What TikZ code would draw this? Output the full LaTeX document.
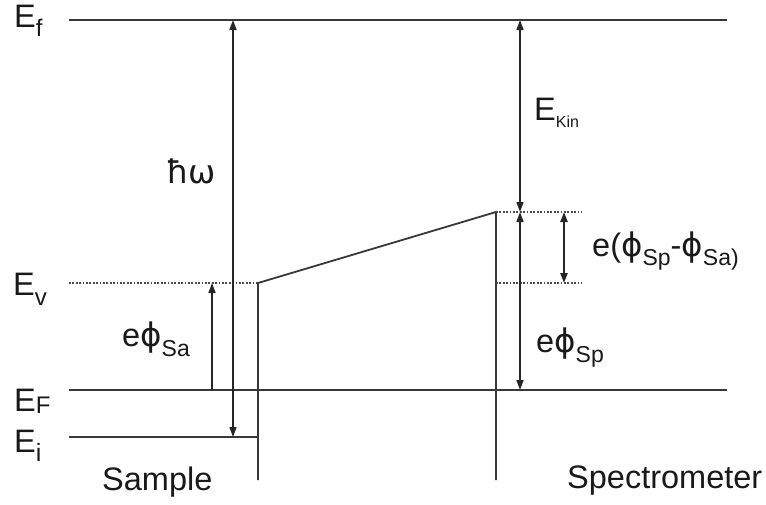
\documentclass[tikz,border=0pt]{standalone}
\usepackage{fontspec}
\setmainfont{Liberation Sans}
\newfontfamily\grk{DejaVu Sans}
\usetikzlibrary{arrows.meta}
% \lsub[size]{lower}{text}
\newcommand\lsub[3][23]{\raisebox{-#2pt}{\fontsize{#1}{#1}\selectfont #3}}
\newcommand\phis{{\grk ϕ}}
\begin{document}
\begin{tikzpicture}[x=1pt,y=-1pt,
  level/.style={line width=1.8pt, draw=black!78},
  dotline/.style={line width=1.8pt, draw=black!70, dash pattern=on 1.7pt off 1.7pt},
  tip/.tip={Triangle[length=10pt,width=7pt]},
  dimline/.style={line width=1.6pt, draw=black!85, tip-tip},
  upline/.style={line width=1.6pt, draw=black!85, -tip},
  lbl/.style={inner sep=0pt, anchor=base west, font=\fontsize{32.5}{32.5}\selectfont, text=black!90}]
\useasboundingbox (0,0) rectangle (766,504);
% coordinates
\coordinate (fL) at (69,20);   \coordinate (fR) at (727,20);
\coordinate (FL) at (69,390);  \coordinate (FR) at (727,390);
\coordinate (iL) at (69,437);  \coordinate (iR) at (258,437);
\coordinate (vL) at (69,283);  \coordinate (vR) at (258,283);
\coordinate (sTop) at (496,212); \coordinate (sBot) at (496,480);
\coordinate (aBot) at (258,480);
\coordinate (dTopR) at (582,212); \coordinate (dMid) at (496,283); \coordinate (dMidR) at (582,283);
\coordinate (hwT) at (233,20); \coordinate (hwB) at (233,437);
\coordinate (kT) at (520,20); \coordinate (kB) at (520,212);
\coordinate (pB) at (520,390);
\coordinate (saB) at (212,390); \coordinate (saT) at (212,283);
\coordinate (dT) at (564,212); \coordinate (dB) at (564,283);
% levels
\draw[level] (fL) -- (fR);
\draw[level] (FL) -- (FR);
\draw[level] (iL) -- (iR);
\draw[dotline] (vL) -- (vR);
\draw[level] (aBot) -- (vR) -- (sTop) -- (sBot);
\draw[dotline] (sTop) -- (dTopR);
\draw[dotline] (dMid) -- (dMidR);
% arrows
\draw[dimline] (hwB) -- (hwT);
\draw[dimline] (kT) -- (kB);
\draw[dimline] (kB) -- (pB);
\draw[upline] (saB) -- (saT);
\draw[dimline, line width=2.2pt] (dT) -- (dB);
% labels
\node[lbl] (Ef) at (14,27) {E\lsub[24]{9}{f}};
\node[lbl] (Ev) at (13,295) {E\lsub[24]{10}{v}};
\node[lbl] (EF) at (14,411) {E\lsub[24]{2}{F}};
\node[lbl] (Ei) at (14,452) {E\lsub[25]{9}{i}};
\node[lbl] (hw) at (166,183) {{\grk ħω}};
\node[lbl] (Ek) at (534,120) {E\lsub[16]{7}{Kin}};
\node[lbl] (esa) at (122,346) {e\phis\lsub{10}{Sa}};
\node[lbl] (esp) at (536,352) {e\phis\lsub{10}{Sp}};
\node[lbl] (ed) at (592,256) {e(\phis\lsub{9}{Sp}-\phis\lsub{9}{Sa)}};
\node[lbl] (sam) at (102,490) {Sample};
\node[lbl] (spe) at (567,488) {Spectrometer};
\end{tikzpicture}
\end{document}
